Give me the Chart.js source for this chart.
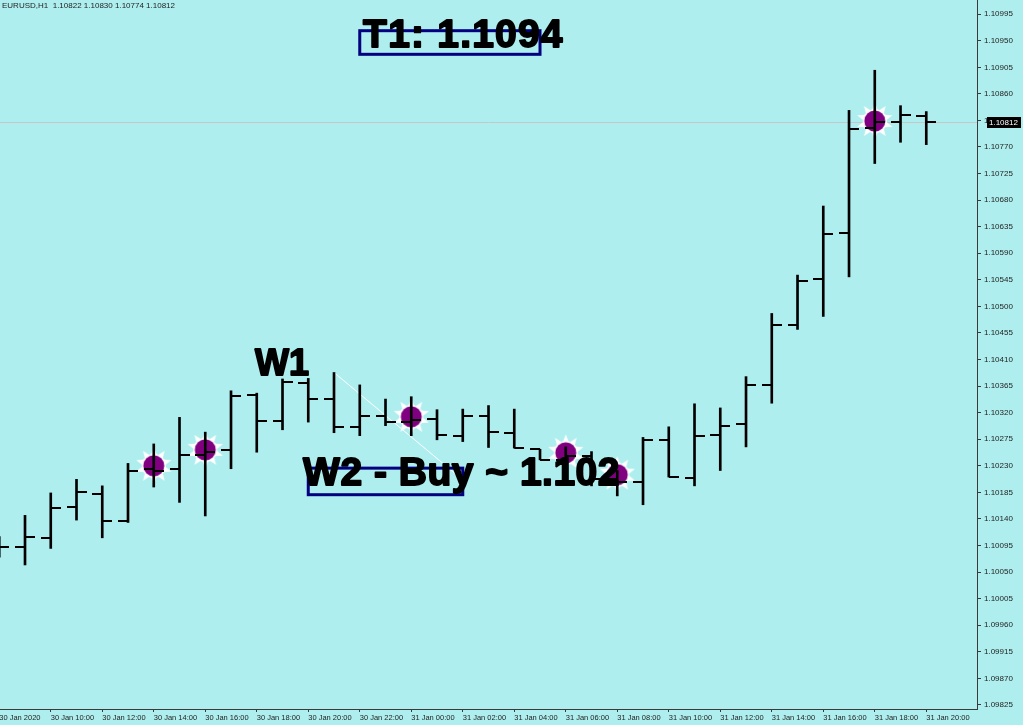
<!DOCTYPE html>
<html>
<head>
<meta charset="utf-8">
<script src="https://cdn.jsdelivr.net/npm/chart.js@4.4.1/dist/chart.umd.min.js"></script>
<style>
  html, body { margin: 0; padding: 0; background: #afeeee; }
  #wrap { width: 1023px; height: 725px; }
</style>
</head>
<body>
<div id="wrap"><canvas id="chart" width="1023" height="725"></canvas></div>
<script>
// EURUSD H1, 30 Jan 08:00 .. 31 Jan 20:00
const symbol = 'EURUSD,H1';
const opens  = [1.10085, 1.10093, 1.10107, 1.10161, 1.10183, 1.10137, 1.10224, 1.10225, 1.10248, 1.10256,
                1.10350, 1.10306, 1.10371, 1.10343, 1.10296, 1.10315, 1.10305, 1.10309, 1.10281, 1.10315,
                1.10286, 1.10258, 1.10240, 1.10246, 1.10208, 1.10203, 1.10274, 1.10210, 1.10282, 1.10301,
                1.10367, 1.10468, 1.10546, 1.10624, 1.10803, 1.10813, 1.10822];
const highs  = [1.10110, 1.10146, 1.10184, 1.10207, 1.10196, 1.10234, 1.10267, 1.10312, 1.10287, 1.10357,
                1.10353, 1.10377, 1.10378, 1.10388, 1.10367, 1.10343, 1.10347, 1.10325, 1.10326, 1.10332,
                1.10326, 1.10258, 1.10262, 1.10254, 1.10222, 1.10278, 1.10296, 1.10335, 1.10328, 1.10381,
                1.10488, 1.10553, 1.10670, 1.10832, 1.10900, 1.10840, 1.10830];
const lows   = [1.10075, 1.10062, 1.10090, 1.10138, 1.10108, 1.10134, 1.10194, 1.10168, 1.10145, 1.10225,
                1.10253, 1.10291, 1.10304, 1.10286, 1.10281, 1.10298, 1.10281, 1.10274, 1.10271, 1.10261,
                1.10260, 1.10240, 1.10232, 1.10196, 1.10179, 1.10164, 1.10211, 1.10196, 1.10222, 1.10262,
                1.10336, 1.10461, 1.10483, 1.10550, 1.10742, 1.10778, 1.10774];
const closes = [1.10093, 1.10109, 1.10159, 1.10185, 1.10137, 1.10222, 1.10222, 1.10248, 1.10254, 1.10349,
                1.10306, 1.10372, 1.10343, 1.10296, 1.10315, 1.10304, 1.10308, 1.10282, 1.10315, 1.10287,
                1.10260, 1.10240, 1.10247, 1.10208, 1.10203, 1.10273, 1.10211, 1.10281, 1.10297, 1.10367,
                1.10468, 1.10543, 1.10623, 1.10801, 1.10812, 1.10825, 1.10812];

const xTickLabels = ['30 Jan 2020', '30 Jan 10:00', '30 Jan 12:00', '30 Jan 14:00', '30 Jan 16:00',
                     '30 Jan 18:00', '30 Jan 20:00', '30 Jan 22:00', '31 Jan 00:00', '31 Jan 02:00',
                     '31 Jan 04:00', '31 Jan 06:00', '31 Jan 08:00', '31 Jan 10:00', '31 Jan 12:00',
                     '31 Jan 14:00', '31 Jan 16:00', '31 Jan 18:00', '31 Jan 20:00'];
const yTickLabels = ['1.09825', '1.09870', '1.09915', '1.09960', '1.10005', '1.10050', '1.10095',
                     '1.10140', '1.10185', '1.10230', '1.10275', '1.10320', '1.10365', '1.10410',
                     '1.10455', '1.10500', '1.10545', '1.10590', '1.10635', '1.10680', '1.10725',
                     '1.10770', '1.10815', '1.10860', '1.10905', '1.10950', '1.10995'];

// signal markers (bar index, price)
const markerBars   = [6, 8, 16, 22, 24, 34];
const markerPrices = [1.10230, 1.10257, 1.10313, 1.10252, 1.10215, 1.10814];

// thin white trend line (bar index, price)
const trendBars   = [13, 18];
const trendPrices = [1.10388, 1.10206];

// text objects anchored on bar index / price
const labelTexts  = ['T1: 1.1094', 'W1', 'W2 - Buy ~ 1.102'];
const labelBars   = [14.13, 9.93, 11.8];
const labelPrices = [1.10940, 1.10384, 1.10198];

// rectangle objects
const boxBars   = [[14, 21], [12, 18]];
const boxPrices = [[1.10967, 1.10927], [1.10226, 1.10181]];

const lastIdx = closes.length - 1;

function tickImage(side) {
  const c = document.createElement('canvas');
  c.width = 20; c.height = 2;
  const g = c.getContext('2d');
  g.fillStyle = '#000';
  g.fillRect(side === 'left' ? 0 : 10, 0, 10, 2);
  return c;
}

function sunImage() {
  const c = document.createElement('canvas');
  c.width = 40; c.height = 40;
  const g = c.getContext('2d');
  g.fillStyle = '#ffffff';
  g.beginPath();
  const n = 10;
  for (let i = 0; i < n * 2; i++) {
    const r = i % 2 === 0 ? 18.5 : 10.5;
    const a = -Math.PI / 2 + i * Math.PI / n;
    const px = 20 + r * Math.cos(a), py = 20 + r * Math.sin(a);
    if (i === 0) g.moveTo(px, py); else g.lineTo(px, py);
  }
  g.closePath();
  g.fill();
  g.beginPath();
  g.arc(20, 20, 12, 0, Math.PI * 2);
  g.fill();
  g.fillStyle = '#800080';
  g.beginPath();
  g.arc(20, 20, 10.5, 0, Math.PI * 2);
  g.fill();
  return c;
}

const rangeData = opens.map((o, i) => ({ x: i, y: [lows[i], highs[i]] }));
const openData  = opens.map((o, i) => ({ x: i, y: o }));
const closeData = closes.map((c, i) => ({ x: i, y: c }));
const markData  = markerBars.map((b, i) => ({ x: b, y: markerPrices[i] }));
const trendData = trendBars.map((b, i) => ({ x: b, y: trendPrices[i] }));

const mt4Plugin = {
  id: 'mt4',
  beforeDraw(chart) {
    const ctx = chart.ctx;
    ctx.save();
    ctx.fillStyle = '#afeeee';
    ctx.fillRect(0, 0, chart.width, chart.height);
    ctx.restore();
  },
  beforeDatasetsDraw(chart) {
    const { ctx, chartArea, scales } = chart;
    const y = Math.round(scales.y.getPixelForValue(closes[lastIdx])) + 0.5;
    ctx.save();
    ctx.strokeStyle = '#c4c8c8';
    ctx.lineWidth = 1;
    ctx.beginPath();
    ctx.moveTo(chartArea.left, y);
    ctx.lineTo(chartArea.right, y);
    ctx.stroke();
    ctx.restore();
  },
  afterDatasetsDraw(chart) {
    const { ctx, scales } = chart;
    ctx.save();
    ctx.strokeStyle = '#000080';
    ctx.lineWidth = 3;
    boxBars.forEach((b, i) => {
      const x0 = scales.x.getPixelForValue(b[0]);
      const x1 = scales.x.getPixelForValue(b[1]);
      const y0 = scales.y.getPixelForValue(boxPrices[i][0]);
      const y1 = scales.y.getPixelForValue(boxPrices[i][1]);
      ctx.strokeRect(x0, y0, x1 - x0, y1 - y0);
    });
    ctx.fillStyle = '#000';
    ctx.strokeStyle = '#000';
    ctx.lineWidth = 1.8;
    ctx.lineJoin = 'round';
    ctx.textBaseline = 'alphabetic';
    ctx.textAlign = 'left';
    labelTexts.forEach((t, i) => {
      const size = t === 'W1' ? 36 : 39;
      ctx.font = 'bold ' + size + 'px "Liberation Sans", Arial, sans-serif';
      ctx.letterSpacing = t.length > 12 ? '0.5px' : (t === 'W1' ? '0px' : '1.2px');
      const x = scales.x.getPixelForValue(labelBars[i]);
      const y = scales.y.getPixelForValue(labelPrices[i]);
      ctx.fillText(t, x, y);
      ctx.strokeText(t, x, y);
    });
    ctx.restore();
  },
  afterDraw(chart) {
    const { ctx, chartArea, scales } = chart;
    ctx.save();
    ctx.font = '8px "Liberation Sans", Arial, sans-serif';
    ctx.fillStyle = '#1e1e1e';
    ctx.textBaseline = 'top';
    ctx.fillText(symbol + '  ' + opens[lastIdx].toFixed(5) + ' ' + highs[lastIdx].toFixed(5) + ' ' +
                 lows[lastIdx].toFixed(5) + ' ' + closes[lastIdx].toFixed(5), 2, 2);
    // current price tag on the axis
    const y = Math.round(scales.y.getPixelForValue(closes[lastIdx]));
    ctx.fillStyle = '#000';
    ctx.fillRect(chartArea.right + 10, y - 5, 34, 11);
    ctx.fillStyle = '#fff';
    ctx.textBaseline = 'middle';
    ctx.fillText(closes[lastIdx].toFixed(5), chartArea.right + 12, y + 0.5);
    ctx.restore();
  }
};

new Chart(document.getElementById('chart'), {
  type: 'bar',
  data: {
    datasets: [
      { type: 'line', data: trendData, borderColor: '#ffffff', borderWidth: 1, pointRadius: 0, order: 6 },
      { type: 'line', data: markData, showLine: false, pointStyle: sunImage(), pointRadius: 18, order: 5 },
      { type: 'bar', data: rangeData, backgroundColor: '#000', borderWidth: 0, barThickness: 2, order: 3 },
      { type: 'line', data: openData, showLine: false, pointStyle: tickImage('left'), pointRadius: 10, order: 2 },
      { type: 'line', data: closeData, showLine: false, pointStyle: tickImage('right'), pointRadius: 10, order: 1 }
    ]
  },
  options: {
    responsive: false,
    animation: false,
    devicePixelRatio: 1,
    events: [],
    layout: { padding: 0, autoPadding: false },
    plugins: { legend: { display: false }, tooltip: { enabled: false } },
    scales: {
      x: {
        type: 'linear',
        min: 0.029,
        max: 37.97,
        offset: false,
        bounds: 'data',
        grid: { drawOnChartArea: false, drawTicks: true, tickLength: 3, color: '#3a3a3a', offset: false },
        border: { display: true, color: '#3a3a3a', width: 1 },
        ticks: {
          autoSkip: false, maxRotation: 0, minRotation: 0, align: 'start', padding: 1,
          color: '#1e1e1e', font: { family: 'Liberation Sans', size: 7.5 },
          callback: (v, i) => xTickLabels[i]
        },
        afterBuildTicks: (s) => { s.ticks = xTickLabels.map((_, k) => ({ value: 2 * k })); },
        afterFit: (s) => { s.height = 16; s.paddingLeft = 0; s.paddingRight = 0; }
      },
      y: {
        position: 'right',
        min: 1.09818,
        max: 1.11019,
        beginAtZero: false,
        bounds: 'data',
        grid: { drawOnChartArea: false, drawTicks: true, tickLength: 4, color: '#3a3a3a' },
        border: { display: true, color: '#3a3a3a', width: 1 },
        ticks: {
          autoSkip: false, padding: 3,
          color: '#1e1e1e', font: { family: 'Liberation Sans', size: 8 },
          callback: (v, i) => yTickLabels[i]
        },
        afterBuildTicks: (s) => { s.ticks = yTickLabels.map((t) => ({ value: parseFloat(t) })); },
        afterFit: (s) => { s.width = 46; s.paddingTop = 0; s.paddingBottom = 0; }
      }
    }
  },
  plugins: [mt4Plugin]
});
</script>
</body>
</html>
